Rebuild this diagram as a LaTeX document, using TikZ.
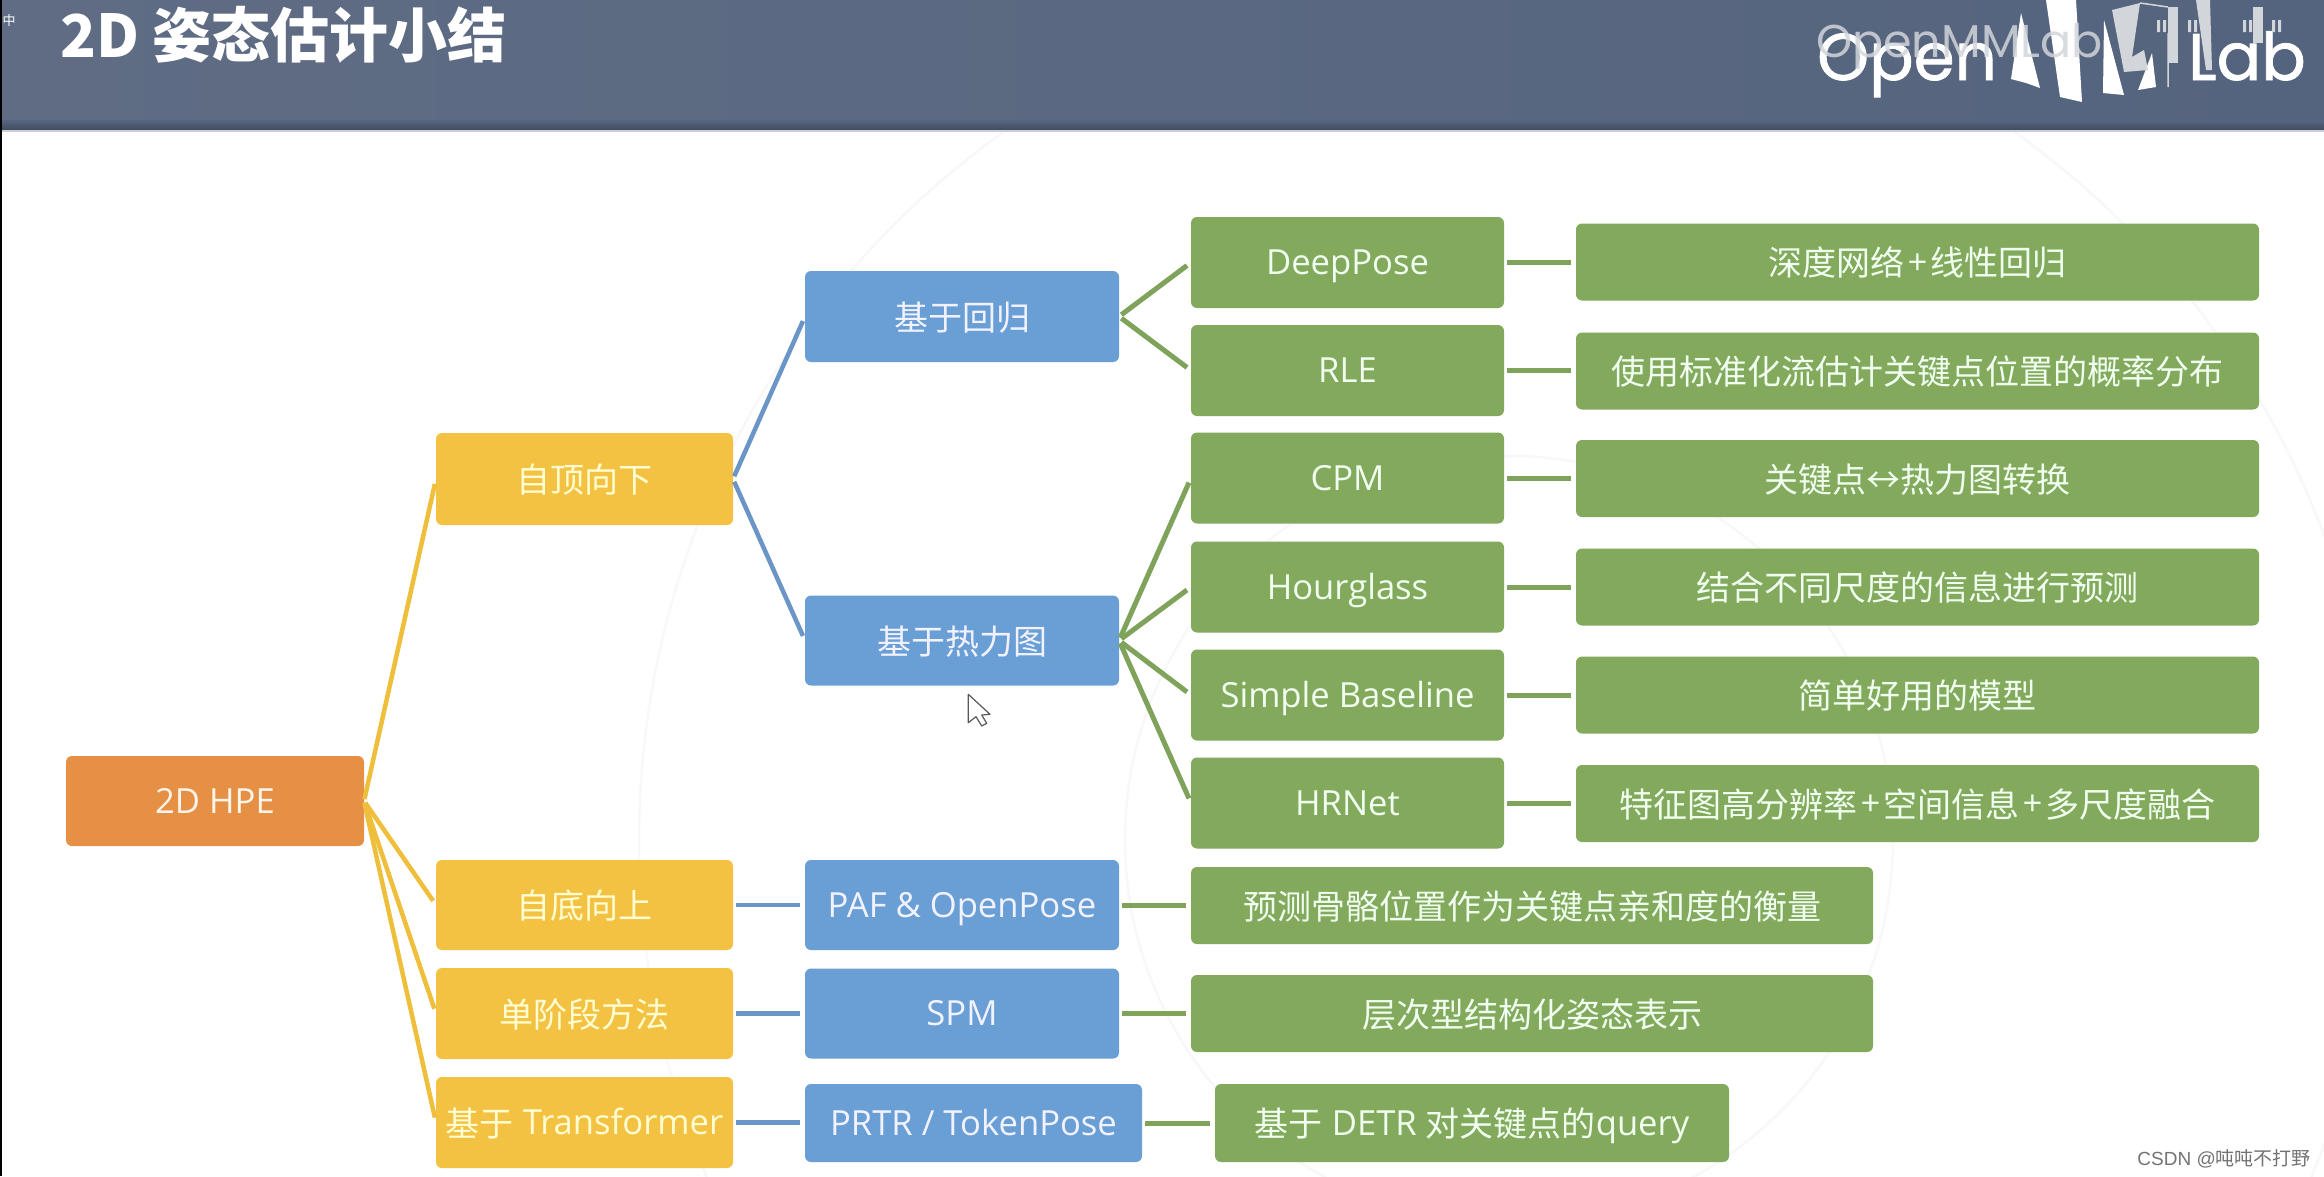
\documentclass[tikz,border=0pt]{standalone}
\usepackage{fontspec}
\setmainfont{Open Sans}
\newfontfamily\cjk{Noto Sans CJK SC}
\newfontfamily\logofont[FakeBold=1.2]{Poppins}
\newfontfamily\logothin{Poppins}
\newfontfamily\wmfont{Liberation Sans}
\newcommand{\zh}[1]{\raisebox{-1.5pt}{\fontsize{34}{40}\selectfont\cjk #1}}
\newcommand{\plusgap}{\hspace{3.2pt}+\hspace{3.2pt}}
\usetikzlibrary{calc}
\definecolor{orangebox}{HTML}{E69045}
\definecolor{yellowbox}{HTML}{F4C243}
\definecolor{bluebox}{HTML}{6A9FD6}
\definecolor{greenbox}{HTML}{82A95C}
\definecolor{headL}{HTML}{5F6C84}
\definecolor{headR}{HTML}{55647E}
\definecolor{yline}{HTML}{EFBE3A}
\definecolor{bline}{HTML}{6A95C6}
\definecolor{gline}{HTML}{7FA35A}
\definecolor{faint}{HTML}{F8F8F8}
\definecolor{logogray}{HTML}{D2D5DA}
\tikzset{
  boxbase/.style={rectangle,rounded corners=6pt,inner sep=0pt,outer sep=0pt,align=center,
    font=\fontsize{34.6}{40}\selectfont,text height=24pt,text depth=0pt},
  hpebox/.style={boxbase,fill=orangebox,text=orange!8!white},
  methodbox/.style={boxbase,fill=yellowbox,text=yellow!18!white,minimum width=297pt},
  familybox/.style={boxbase,fill=bluebox,text=blue!5!white},
  modelbox/.style={boxbase,fill=greenbox,text=green!6!white,minimum width=313pt,minimum height=91pt},
  notebox/.style={boxbase,fill=greenbox,text=green!6!white,minimum height=77pt},
  ylink/.style={draw=yline,line width=4.5pt,shorten <=2pt,shorten >=5pt},
  blink/.style={draw=bline,line width=4.5pt,shorten <=3pt,shorten >=5pt},
  glink/.style={draw=gline,line width=5pt,shorten <=3pt,shorten >=5pt},
}
\begin{document}
\begin{tikzpicture}[x=1pt,y=-1pt]
\useasboundingbox (0,0) rectangle (2324,1176);
\fill[white] (0,0) rectangle (2324,1176);
% faint background circles
\begin{scope}
\clip (0,132) rectangle (2324,1176);
\draw[faint,line width=2.5pt] (1509,840) circle[radius=870pt];
\draw[faint,line width=2.5pt] (1509,840) circle[radius=384pt];
\end{scope}
% header
\shade[left color=headL,right color=headR] (0,0) rectangle (2324,120);
\shade[top color=headR!90!headL,bottom color=headR!75!black] (0,120) rectangle (2324,130);
\fill[black!15!headL!30!white] (0,130) rectangle (2324,132);
\fill[black] (0,0) rectangle (1.5,1176);
\node[anchor=center,inner sep=0pt,text=white,font=\fontsize{13}{13}\selectfont\cjk] (ime) at (9,21) {中};
\node[anchor=base west,inner sep=0pt,text=white,font=\fontsize{59}{64}\selectfont\cjk\bfseries] (title) at (60,57) {2D 姿态估计小结};
% logo
\node[anchor=base west,inner sep=0pt,text=white,font=\fontsize{66}{66}\selectfont\logofont] (logoa) at (1817,80) {Open};
\node[anchor=base east,inner sep=0pt,text=white,font=\fontsize{66}{66}\selectfont\logofont] (logob) at (2306,80) {Lab};
\fill[white] (2011,79) -- (2021,13) -- (2040,88) -- (2026,83) -- cycle;
\fill[white] (2060,97) -- (2046,0) -- (2076,0) -- (2082,102) -- cycle;
\fill[white] (2103,93) -- (2104,20) -- (2124,95) -- cycle;
\fill[white] (2138,90) -- (2152,53) -- (2156,87) -- cycle;
\fill[logogray] (2112,10) -- (2140,3) -- (2132,57) -- (2144,50) -- (2148,70) -- (2124,72) -- cycle;
\fill[logogray] (2168,7) rectangle (2178,63);
\fill[logogray] (2196,0) -- (2210,0) -- (2212,70) -- (2206,70) -- cycle;
\fill[logogray] (2253,7) rectangle (2263,43);
\foreach \t in {2157,2188,2243,2272} \fill[logogray] (\t,20) rectangle ++(3,12) (\t+6,20) rectangle ++(3,12);
\draw[logogray,line width=1.5pt] (2140,3) -- (2168,7) (2168,33) -- (2168,87);
\node[anchor=base west,inner sep=0pt,text=logogray,font=\fontsize{46}{46}\selectfont\logothin,opacity=.85] (logoc) at (1816,57) {OpenMMLab};
% boxes
\node[hpebox,minimum width=298pt,minimum height=90pt] (root) at (215,801) {2D HPE};
\node[methodbox,minimum height=92pt] (td) at (584.5,479) {\zh{自顶向下}};
\node[methodbox,minimum height=90pt] (bu) at (584.5,905) {\zh{自底向上}};
\node[methodbox,minimum height=91pt] (sp) at (584.5,1013.5) {\zh{单阶段方法}};
\node[methodbox,minimum height=91pt] (tf) at (584.5,1122.5) {\zh{基于} Transformer};
\node[familybox,minimum width=314pt,minimum height=91pt] (reg) at (962,316.5) {\zh{基于回归}};
\node[familybox,minimum width=314pt,minimum height=90pt] (heat) at (962,640.5) {\zh{基于热力图}};
\node[familybox,minimum width=314pt,minimum height=90pt] (paf) at (962,905) {PAF \& OpenPose};
\node[familybox,minimum width=314pt,minimum height=90pt] (spm) at (962,1013.5) {SPM};
\node[familybox,minimum width=337pt,minimum height=78pt] (prtr) at (973.5,1123) {PRTR / TokenPose};
\node[modelbox] (deep) at (1347.5,262.5) {DeepPose};
\node[modelbox] (rle) at (1347.5,370.5) {RLE};
\node[modelbox] (cpm) at (1347.5,478) {CPM};
\node[modelbox] (hg) at (1347.5,587) {Hourglass};
\node[modelbox] (sb) at (1347.5,695) {Simple Baseline};
\node[modelbox] (hr) at (1347.5,803) {HRNet};
\node[notebox,minimum width=683pt] (n1) at (1917.5,262) {\zh{深度网络}\plusgap\zh{线性回归}};
\node[notebox,minimum width=683pt] (n2) at (1917.5,371) {\zh{使用标准化流估计关键点位置的概率分布}};
\node[notebox,minimum width=683pt] (n3) at (1917.5,478.5) {\zh{关键点↔热力图转换}};
\node[notebox,minimum width=683pt] (n4) at (1917.5,587) {\zh{结合不同尺度的信息进行预测}};
\node[notebox,minimum width=683pt] (n5) at (1917.5,695) {\zh{简单好用的模型}};
\node[notebox,minimum width=683pt] (n6) at (1917.5,803.5) {\zh{特征图高分辨率}\plusgap\zh{空间信息}\plusgap\zh{多尺度融合}};
\node[notebox,minimum width=682pt] (n7) at (1532,905.5) {\zh{预测骨骼位置作为关键点亲和度的衡量}};
\node[notebox,minimum width=682pt] (n8) at (1532,1013.5) {\zh{层次型结构化姿态表示}};
\node[boxbase,fill=greenbox,text=green!6!white,minimum width=514pt,minimum height=78pt] (n9) at (1472,1123) {\zh{基于} DETR \zh{对关键点的}query};
% connectors
\foreach \c in {td,bu,sp,tf} \draw[ylink] (root.east) -- (\c.west);
\foreach \c in {reg,heat} \draw[blink] (td.east) -- (\c.west);
\foreach \a/\b in {bu/paf,sp/spm,tf/prtr} \draw[blink] (\a.east) -- (\a.east -| \b.west);
\foreach \c in {deep,rle} \draw[glink] (reg.east) -- (\c.west);
\foreach \c in {cpm,hg,sb,hr} \draw[glink] (heat.east) -- (\c.west);
\foreach \a/\b in {deep/n1,rle/n2,cpm/n3,hg/n4,sb/n5,hr/n6,paf/n7,spm/n8,prtr/n9} \draw[glink] (\a.east) -- (\a.east -| \b.west);
% cursor
\filldraw[fill=white,draw=black!65,line width=1.2pt,line join=round]
  (968.3,694.3) -- (968.3,722.7) -- (976,716.7) -- (981.7,726) -- (986.7,723.3) -- (981.7,715) -- (990,714.3) -- cycle;
% watermark
\node[anchor=base east,inner sep=0pt,text=black!55,font=\fontsize{19}{20}\selectfont\wmfont] (wm) at (2311,1165) {CSDN @{\cjk 吨吨不打野}};
\end{tikzpicture}
\end{document}
